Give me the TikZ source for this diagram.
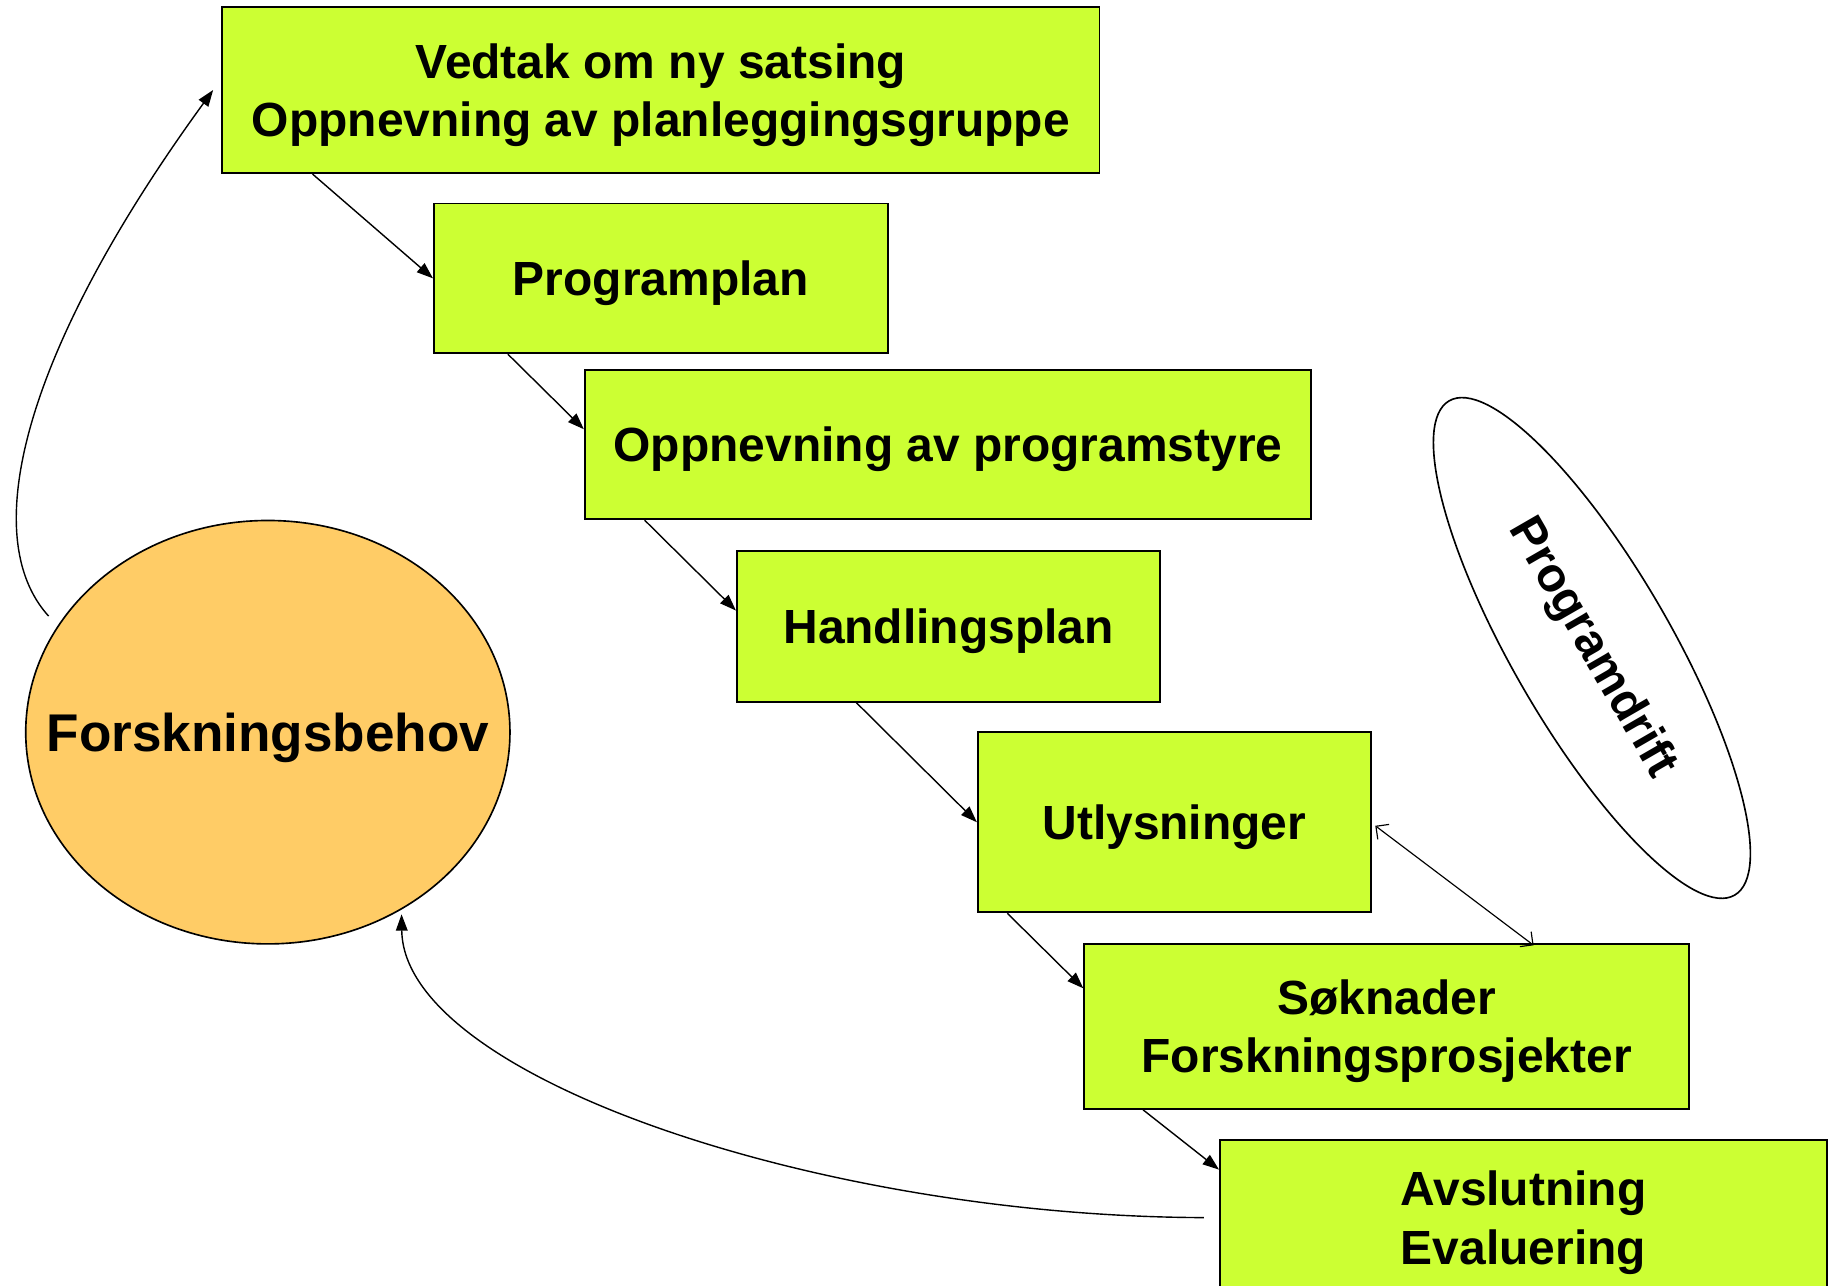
\documentclass[tikz,border=0pt]{standalone}
\usepackage{fontspec}
\setmainfont{Liberation Sans}
\usetikzlibrary{arrows.meta,shapes.geometric,calc}
\definecolor{lime}{HTML}{CCFF33}
\definecolor{orangefill}{HTML}{FFCC66}
\begin{document}
\begin{tikzpicture}[x=0.5pt,y=0.5pt,
  box/.style={draw=black,line width=0.8pt,fill=lime,inner sep=0pt,align=center,text depth=0pt,
    font=\fontsize{20.5}{25}\selectfont\bfseries},
  conn/.style={line width=0.6pt,-{Triangle[length=7pt,width=5pt]}},
  dbl/.style={line width=0.5pt,{Straight Barb[length=4pt,width=8pt]}-{Straight Barb[length=4pt,width=8pt]}}]
\useasboundingbox (0,0) rectangle (1568,1099);
\begin{scope}
\clip (0,0) rectangle (1568,1099);
\node[box,minimum width=375pt,minimum height=71pt] (b1) at (565,1022) {Vedtak om ny satsing\\Oppnevning av planleggingsgruppe};
\node[box,minimum width=194pt,minimum height=64pt] (b2) at (565,861) {Programplan};
\node[box,minimum width=310.5pt,minimum height=64pt] (b3) at (810.5,719) {Oppnevning av programstyre};
\node[box,minimum width=181pt,minimum height=64.5pt] (b4) at (811,563.5) {Handlingsplan};
\node[box,minimum width=168pt,minimum height=77pt] (b5) at (1004,396) {Utlysninger};
\node[box,minimum width=258.5pt,minimum height=70.5pt] (b6) at (1185.5,221.5) {Søknader\\Forskningsprosjekter};
\node[box,minimum width=259.5pt,minimum height=66pt] (b7) at (1302.5,58) {Avslutning\\Evaluering};
\node[draw=black,line width=0.7pt,fill=orangefill,ellipse,inner sep=0pt,minimum width=207pt,minimum height=181pt] (fb) at (229,473) {};
\node[inner sep=0pt,text depth=0pt,font=\fontsize{22.7}{27}\selectfont\bfseries] (fbt) at (fb.center) {Forskningsbehov};
\node[draw=black,line width=0.7pt,ellipse,inner sep=0pt,minimum width=244pt,minimum height=68pt,rotate=-60,
  font=\fontsize{20.5pt}{25pt}\selectfont\bfseries] (pd) at (1361,545) {Programdrift};
\end{scope}
\draw[conn] ([xshift=39pt]b1.south west) -- (b2.west);
\draw[conn] ([xshift=32pt]b2.south west) -- ([yshift=6.5pt]b3.west);
\draw[conn] ([xshift=26pt]b3.south west) -- ([yshift=6.75pt]b4.west);
\draw[conn] ([xshift=51.5pt]b4.south west) -- (b5.west);
\draw[conn] ([xshift=13pt]b5.south west) -- ([yshift=16.25pt]b6.west);
\draw[conn] ([xshift=25.5pt]b6.south west) -- ([yshift=20.5pt]b7.west);
\draw[dbl] ([xshift=1.5pt,yshift=-1.5pt]b5.east) -- ([xshift=192.5pt,yshift=-1pt]b6.north west);
\draw[conn] ([xshift=-6pt,yshift=1pt]fb.151) .. controls (-20,640) and (20,799) .. ([xshift=-3.5pt]b1.west);
\draw[conn] ([xshift=-6.5pt]b7.west) .. controls (700,59) and (345,179) .. ([yshift=-2pt]fb.-53);
\end{tikzpicture}
\end{document}
